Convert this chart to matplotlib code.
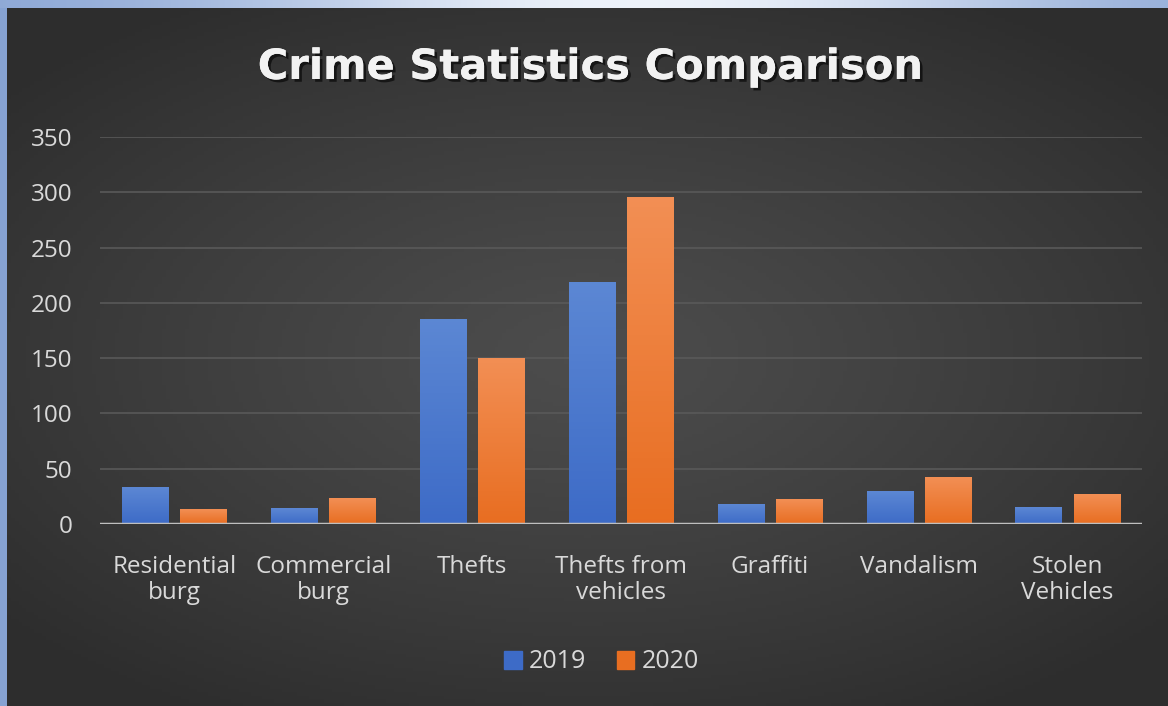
import matplotlib.pyplot as plt
import matplotlib.patheffects as pe
from matplotlib.patches import Rectangle
import numpy as np

categories = ['Residential\nburg', 'Commercial\nburg', 'Thefts', 'Thefts from\nvehicles',
              'Graffiti', 'Vandalism', 'Stolen\nVehicles']
values_2019 = [33, 14, 185, 218, 18, 29, 15]
values_2020 = [13, 23, 150, 295, 22, 42, 27]
series_names = ['2019', '2020']

W, H = 1168, 706
fig = plt.figure(figsize=(W / 100, H / 100), dpi=100)
fig.patch.set_facecolor('#86a2d2')
plt.rcParams['font.family'] = ['Open Sans', 'DejaVu Sans']

# top strip gradient (blue -> white -> blue)
strip = fig.add_axes([0, 1 - 8 / H, 1, 8 / H])
t = np.linspace(0, 1, 400)
g = np.exp(-((t - 0.55) / 0.35) ** 2)
c0 = np.array([0.53, 0.64, 0.83])
c1 = np.array([0.93, 0.95, 0.98])
row = c0[None, :] * (1 - g[:, None]) + c1[None, :] * g[:, None]
strip.imshow(row[None, :, :], aspect='auto', extent=[0, 1, 0, 1])
strip.axis('off')

# dark radial background
bg = fig.add_axes([7 / W, 0, 1 - 7 / W, 1 - 8 / H])
xx, yy = np.meshgrid(np.linspace(-1, 1, 300), np.linspace(-1, 1, 200))
r = np.sqrt((xx / 1.0) ** 2 + (yy / 0.9) ** 2)
shade = 0.30 - 0.12 * np.clip(r / 1.3, 0, 1) ** 1.2
bg.imshow(np.dstack([shade] * 3), aspect='auto', extent=[0, 1, 0, 1])
bg.axis('off')

fig.text(0.505, 1 - 67 / H, 'Crime Statistics Comparison', ha='center', va='center',
         fontsize=30, fontweight='bold', color='#f2f2f2', family=['DejaVu Sans'],
         path_effects=[pe.withSimplePatchShadow(offset=(2, -2), shadow_rgbFace='black', alpha=0.6),
                       pe.Normal()])

ax = fig.add_axes([100 / W, 1 - 524 / H, 1042 / W, 387 / H])
ax.patch.set_alpha(0)
x = np.arange(len(categories))
bw = 0.31
off = 0.195

blue_grad = [(0.36, 0.53, 0.83), (0.24, 0.42, 0.78)]
orange_grad = [(0.95, 0.56, 0.33), (0.91, 0.43, 0.13)]

def grad_bars(xpos, vals, cols):
    bars = ax.bar(xpos, vals, width=bw, color=cols[1], zorder=2)
    for b in bars:
        x0, w, h = b.get_x(), b.get_width(), b.get_height()
        tt = np.linspace(1, 0, 64)[:, None]
        img = np.array(cols[0])[None, None, :] * tt[:, :, None] + np.array(cols[1])[None, None, :] * (1 - tt[:, :, None])
        ax.imshow(img, extent=[x0, x0 + w, 0, h], aspect='auto', zorder=3)
    return bars

grad_bars(x - off, values_2019, blue_grad)
grad_bars(x + off, values_2020, orange_grad)

ax.set_xlim(-0.5, len(categories) - 0.5)
ax.set_ylim(0, 350)
ax.set_yticks(range(0, 351, 50))
ax.grid(axis='y', color='#595959', linewidth=1.2, zorder=0)
ax.set_axisbelow(True)
ax.axhline(0, color='#bfbfbf', linewidth=2.5, zorder=4)
for s in ax.spines.values():
    s.set_visible(False)
ax.set_xticks(x)
ax.set_xticklabels(categories, fontsize=17.5, color='#d9d9d9', linespacing=1.15)
ax.tick_params(axis='x', length=0, pad=22)
ax.tick_params(axis='y', length=0, labelsize=17.5, labelcolor='#d9d9d9', pad=20)

handles = [Rectangle((0, 0), 1, 1, color=blue_grad[1]), Rectangle((0, 0), 1, 1, color=orange_grad[1])]
fig.legend(handles, series_names, loc='center', bbox_to_anchor=(0.515, 1 - 662 / H), ncol=2,
           frameon=False, fontsize=18, labelcolor='#d9d9d9', handlelength=0.7, handleheight=0.7,
           handletextpad=0.3, columnspacing=1.2)

fig.savefig('out.png', dpi=100, facecolor=fig.get_facecolor())
